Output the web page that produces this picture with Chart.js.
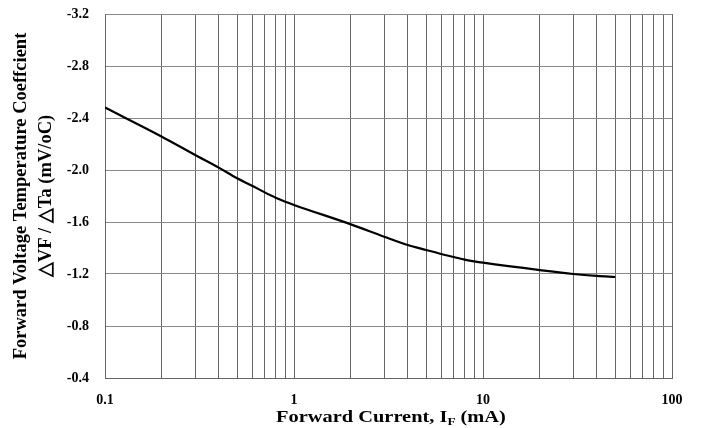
<!DOCTYPE html>
<html>
<head>
<meta charset="utf-8">
<script src="https://cdn.jsdelivr.net/npm/chart.js@4.4.1/dist/chart.umd.min.js"></script>
<style>
  html, body { margin: 0; padding: 0; background: #fff; }
  #box { width: 701px; height: 428px; }
</style>
</head>
<body>
<div id="box"><canvas id="graphique"></canvas></div>
<script>
// forward current (mA)
const courants = [0.1, 0.2, 0.3, 0.4, 0.5, 0.6, 0.7, 0.8, 0.9, 1, 2, 3, 4, 5, 6, 7, 8, 9, 10, 20, 30, 40, 50];
// temperature coefficient (mV/oC)
const coefficients = [-2.48, -2.256, -2.115, -2.018, -1.936, -1.879, -1.828, -1.787, -1.756, -1.731,
  -1.582, -1.487, -1.423, -1.385, -1.354, -1.331, -1.31, -1.297, -1.287, -1.23, -1.2, -1.185, -1.177];

// grid lines on the log axis, labels only on decades
const graduationsX = [0.1, 0.2, 0.3, 0.4, 0.5, 0.6, 0.7, 0.8, 0.9, 1, 2, 3, 4, 5, 6, 7, 8, 9, 10, 20, 30, 40, 50, 60, 70, 80, 90, 100];
const etiquettesX = ["0.1", "1", "10", "100"];
const graduationsY = [-3.2, -2.8, -2.4, -2.0, -1.6, -1.2, -0.8, -0.4];

const police = "'Liberation Serif', 'Times New Roman', serif";

// x title with subscript F (text a bit wider like the scan)
const titreX = {
  id: "titreX",
  afterDraw(chart) {
    const ctx = chart.ctx;
    const parts = [
      { t: "Forward Current, I", size: 17, dy: 0 },
      { t: "F", size: 11, dy: 3 },
      { t: " (mA)", size: 17, dy: 0 }
    ];
    const etire = 1.2;
    ctx.save();
    ctx.fillStyle = "#000";
    ctx.textBaseline = "alphabetic";
    let total = 0;
    parts.forEach(p => { ctx.font = "bold " + p.size + "px " + police; p.w = ctx.measureText(p.t).width; total += p.w; });
    ctx.translate(391 - total * etire / 2, 422);
    ctx.scale(etire, 1);
    let x = 0;
    parts.forEach(p => {
      ctx.font = "bold " + p.size + "px " + police;
      ctx.fillText(p.t, x, p.dy);
      x += p.w;
    });
    ctx.restore();
  }
};

const configurations = {
  type: "line",
  data: {
    datasets: [{
      data: courants.map((c, i) => ({ x: c, y: coefficients[i] })),
      borderColor: "#000",
      borderWidth: 2.2,
      pointRadius: 0,
      cubicInterpolationMode: "monotone",
      fill: false
    }]
  },
  options: {
    responsive: true,
    maintainAspectRatio: false,
    animation: false,
    layout: { padding: { top: 14, right: 29, left: 0, bottom: 0 } },
    plugins: {
      legend: { display: false },
      tooltip: { enabled: false }
    },
    scales: {
      x: {
        type: "logarithmic",
        min: 0.1,
        max: 100,
        afterFit: (s) => { s.height = 50; },
        afterBuildTicks: (s) => { s.ticks = graduationsX.map(v => ({ value: v })); },
        grid: { color: "#666", lineWidth: 1, drawTicks: false },
        border: { color: "#666", width: 1 },
        ticks: {
          autoSkip: false,
          maxRotation: 0,
          padding: 14,
          color: "#000",
          font: { family: police, size: 14, weight: "bold" },
          callback: (v) => {
            const s = String(Number(v.toPrecision(3)));
            return etiquettesX.includes(s) ? s : "";
          }
        },
        title: { display: false }
      },
      y: {
        type: "linear",
        reverse: true,
        min: -3.2,
        max: -0.4,
        afterFit: (s) => { s.width = 105; s.paddingTop = 0; s.paddingBottom = 0; },
        afterBuildTicks: (s) => { s.ticks = graduationsY.map(v => ({ value: v })); },
        grid: { color: "#888", lineWidth: 1, drawTicks: false },
        border: { color: "#666", width: 1 },
        ticks: {
          padding: 16,
          color: "#000",
          font: { family: police, size: 14, weight: "bold" },
          callback: (v) => v.toFixed(1)
        },
        title: {
          display: true,
          text: ["Forward Voltage Temperature Coeffcient", "\u25B3VF / \u25B3Ta (mV/oC)"],
          color: "#000",
          font: { family: police, size: 18.5, weight: "bold", lineHeight: 1.35 },
          padding: { top: 9, bottom: 0 }
        }
      }
    }
  },
  plugins: [titreX]
};

const contexte = document.querySelector("#graphique").getContext("2d");
new Chart(contexte, configurations);
</script>
</body>
</html>
